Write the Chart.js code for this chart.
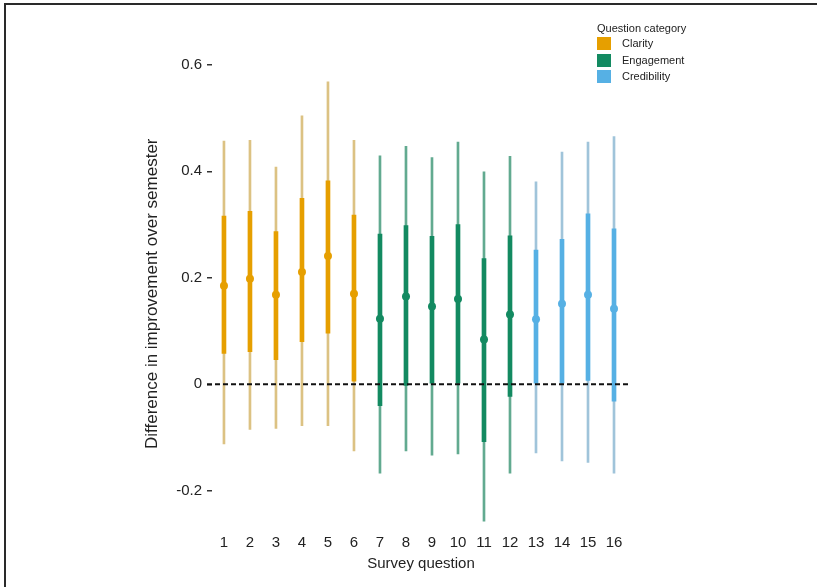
<!DOCTYPE html>
<html>
<head>
<meta charset="utf-8">
<script src="https://cdn.jsdelivr.net/npm/chart.js@4.4.1/dist/chart.umd.min.js"></script>
<style>
  html, body { margin: 0; padding: 0; background: #fff; }
  #wrap { position: relative; width: 817px; height: 587px; overflow: hidden; }
  #frame { position: absolute; left: 4px; top: 3px; right: 0; bottom: 0;
           border-top: 2px solid #2a2a2a; border-left: 2px solid #2a2a2a; pointer-events: none; }
  #legend { position: absolute; left: 597px; top: 21px;
            font-family: 'Liberation Sans', Arial, sans-serif; font-size: 11px; color: #222; }
  #legend .title { height: 14px; line-height: 14px; }
  #legend .item { position: absolute; left: 0; height: 13px; line-height: 13px; white-space: nowrap; }
  #legend .box { position: absolute; left: 0; top: 0; width: 14px; height: 13px; }
  #legend .lab { position: absolute; left: 25px; top: 0; }
</style>
</head>
<body>
<div id="wrap">
  <canvas id="chart" width="817" height="587"></canvas>
  <div id="legend"><div class="title">Question category</div></div>
  <div id="frame"></div>
</div>
<script>
// survey questions and their category
const questions = [1, 2, 3, 4, 5, 6, 7, 8, 9, 10, 11, 12, 13, 14, 15, 16];
const categories = ['Clarity', 'Engagement', 'Credibility'];
const questionCategory = ['Clarity', 'Clarity', 'Clarity', 'Clarity', 'Clarity', 'Clarity',
    'Engagement', 'Engagement', 'Engagement', 'Engagement', 'Engagement', 'Engagement',
    'Credibility', 'Credibility', 'Credibility', 'Credibility'];

// estimates and intervals
const estimate = [0.185, 0.198, 0.168, 0.211, 0.241, 0.170, 0.123, 0.165, 0.146, 0.160, 0.084, 0.131, 0.122, 0.151, 0.168, 0.142];
const innerLo = [0.058, 0.061, 0.046, 0.080, 0.096, 0.006, -0.040, -0.002, 0.002, 0.002, -0.108, -0.023, 0.002, 0.002, 0.007, -0.032];
const innerHi = [0.316, 0.325, 0.287, 0.349, 0.382, 0.318, 0.282, 0.298, 0.278, 0.300, 0.236, 0.279, 0.252, 0.272, 0.320, 0.292];
const outerLo = [-0.112, -0.085, -0.083, -0.078, -0.078, -0.125, -0.167, -0.125, -0.133, -0.131, -0.257, -0.167, -0.129, -0.144, -0.147, -0.167];
const outerHi = [0.457, 0.458, 0.408, 0.504, 0.568, 0.458, 0.429, 0.447, 0.426, 0.455, 0.399, 0.428, 0.380, 0.436, 0.455, 0.465];
const yTicks = [-0.2, 0, 0.2, 0.4, 0.6];

const darkColor = {Clarity: '#E69F00', Engagement: '#138A61', Credibility: '#56B0E4'};
const lightColor = {Clarity: '#DCC283', Engagement: '#62AA90', Credibility: '#A0C4DA'};
const FONT = "'Liberation Sans', Arial, sans-serif";

// dashed reference line at zero
const zeroLine = {
    id: 'zeroLine',
    afterDatasetsDraw(chart) {
        const {ctx, chartArea, scales} = chart;
        const py = scales.y.getPixelForValue(0);
        ctx.save();
        ctx.strokeStyle = '#111';
        ctx.lineWidth = 2;
        ctx.setLineDash([5, 3]);
        ctx.beginPath();
        ctx.moveTo(chartArea.left - 5, py);
        ctx.lineTo(chartArea.right, py);
        ctx.stroke();
        ctx.restore();
    }
};

const chart = new Chart(document.getElementById('chart'), {
    type: 'bar',
    data: {
        datasets: [
            {
                type: 'scatter',
                order: 1,
                data: questions.map((q, i) => ({x: q, y: estimate[i]})),
                pointRadius: 4,
                pointBackgroundColor: questionCategory.map(c => darkColor[c]),
                pointBorderWidth: 0
            },
            {
                order: 2,
                grouped: false,
                barThickness: 4,
                data: questions.map((q, i) => ({x: q, y: [innerLo[i], innerHi[i]]})),
                backgroundColor: questionCategory.map(c => darkColor[c]),
                borderWidth: 0
            },
            {
                order: 3,
                grouped: false,
                barThickness: 2,
                data: questions.map((q, i) => ({x: q, y: [outerLo[i], outerHi[i]]})),
                backgroundColor: questionCategory.map(c => lightColor[c]),
                borderWidth: 0
            }
        ]
    },
    options: {
        responsive: false,
        animation: false,
        devicePixelRatio: 1,
        layout: {padding: {left: 139, right: 187, top: 59.5, bottom: 12}},
        plugins: {legend: {display: false}, tooltip: {enabled: false}},
        scales: {
            x: {
                type: 'linear',
                offset: false,
                min: 0.54,
                max: 16.615,
                grid: {display: false, drawTicks: false},
                border: {display: false},
                afterBuildTicks: s => { s.ticks = questions.map(v => ({value: v})); },
                afterFit: s => { s.height = 47; },
                ticks: {
                    autoSkip: false, maxRotation: 0, padding: 6,
                    color: '#222', font: {family: FONT, size: 15},
                    callback: v => String(v)
                },
                title: {
                    display: true, text: 'Survey question', color: '#222',
                    font: {family: FONT, size: 15}, padding: {top: 3, bottom: 2}
                }
            },
            y: {
                min: -0.27,
                max: 0.61,
                grid: {drawOnChartArea: false, drawTicks: true, tickLength: 5, color: '#333', lineWidth: 1.5},
                border: {display: false},
                afterBuildTicks: s => { s.ticks = yTicks.map(v => ({value: v})); },
                afterFit: s => { s.width = 73; },
                ticks: {
                    padding: 5, color: '#222', font: {family: FONT, size: 15},
                    callback: v => v === 0 ? '0' : v.toFixed(1)
                },
                title: {
                    display: true, text: 'Difference in improvement over semester', color: '#222',
                    font: {family: FONT, size: 17}, padding: {top: 3, bottom: 4}
                }
            }
        }
    },
    plugins: [zeroLine]
});

// legend as html
const legend = document.getElementById('legend');
categories.forEach((c, k) => {
    const item = document.createElement('div');
    item.className = 'item';
    item.style.top = (16 + k * 16.5) + 'px';
    item.innerHTML = '<span class="box" style="background:' + darkColor[c] + '"></span><span class="lab">' + c + '</span>';
    legend.appendChild(item);
});
</script>
</body>
</html>
